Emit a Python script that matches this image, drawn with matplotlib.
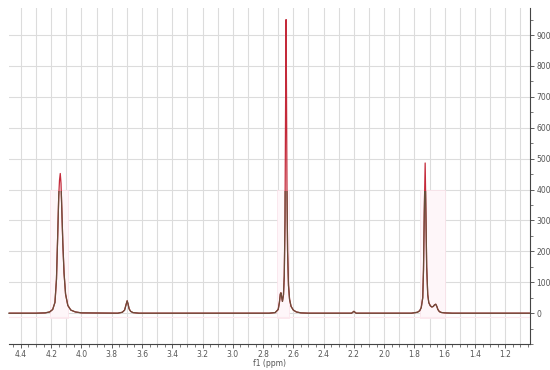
import numpy as np
import matplotlib
matplotlib.use("Agg")
from matplotlib import pyplot as plt
from matplotlib.patches import Rectangle
from matplotlib.ticker import MultipleLocator

# spectrum trace (ppm, intensity)
ppm = [4.48, 4.30, 4.24, 4.21, 4.19, 4.175, 4.165, 4.157, 4.150, 4.145, 4.140,
       4.135, 4.130, 4.123, 4.115, 4.105, 4.09, 4.07, 4.04, 4.00,
       3.76, 3.73, 3.715, 3.705, 3.698, 3.692, 3.685, 3.675, 3.66, 3.62,
       2.76, 2.72, 2.70, 2.692, 2.686, 2.682, 2.678, 2.672, 2.665, 2.660,
       2.655, 2.651, 2.648, 2.645, 2.642, 2.638, 2.632, 2.625, 2.615, 2.60,
       2.58, 2.55, 2.50,
       2.215, 2.20, 2.185,
       1.82, 1.78, 1.765, 1.755, 1.745, 1.740, 1.735, 1.729, 1.724, 1.719,
       1.712, 1.705, 1.695, 1.685, 1.675, 1.667, 1.659, 1.652, 1.645, 1.635,
       1.62, 1.60, 1.55, 1.04]
intensity = [0, 0, 1, 4, 12, 35, 110, 250, 380, 430, 452,
             420, 340, 226, 130, 62, 25, 10, 4, 1,
             0, 3, 10, 28, 40, 30, 14, 6, 2, 0,
             0, 2, 12, 35, 62, 66, 55, 38, 60, 120,
             300, 700, 950, 700, 400, 200, 90, 45, 22, 10,
             4, 1, 0,
             0, 6, 0,
             0, 3, 8, 18, 50, 140, 320, 486, 320, 150,
             60, 34, 24, 20, 22, 27, 29, 22, 12, 5,
             2, 1, 0, 0]

# integration regions (ppm from, ppm to)
region_from = [4.205, 2.705, 1.760]
region_to = [4.090, 2.630, 1.600]

x_ticks = [4.4, 4.2, 4.0, 3.8, 3.6, 3.4, 3.2, 3.0, 2.8, 2.6, 2.4, 2.2, 2.0, 1.8, 1.6, 1.4, 1.2]
y_ticks = [0, 100, 200, 300, 400, 500, 600, 700, 800, 900]

fig = plt.figure(figsize=(5.5, 3.7), dpi=100)
ax = fig.add_axes([0.016, 0.070, 0.948, 0.908])

for a, b in zip(region_from, region_to):
    ax.add_patch(Rectangle((b, -15), a - b, 415, facecolor="#fef6f9",
                           edgecolor="#fae1e9", linewidth=0.5, zorder=1))
ax.axhline(-12, color="#fce8ee", lw=0.8, zorder=1)

# red trace on top of peaks, brown trace below ~395
ax.plot(ppm, intensity, color="#c42a3a", lw=0.9, zorder=3)
brown, = ax.plot(ppm, intensity, color="#6b4d3a", lw=0.9, zorder=4)
brown.set_clip_path(Rectangle((1.0, -200), 3.6, 595, transform=ax.transData))

ax.set_xlim(4.48, 1.035)
ax.set_ylim(-100, 987)

ax.set_xticks(x_ticks)
ax.xaxis.set_minor_locator(MultipleLocator(0.05))
ax.set_yticks(y_ticks)
ax.yaxis.set_minor_locator(MultipleLocator(50))
ax.yaxis.tick_right()

# grid every 0.1 ppm and every 100
for g in np.arange(1.1, 4.5, 0.1):
    ax.axvline(g, color="#dcdcdc", lw=0.8, zorder=0)
for g in y_ticks:
    ax.axhline(g, color="#dcdcdc", lw=0.8, zorder=0)

for s in ["top", "left"]:
    ax.spines[s].set_visible(False)
for s in ["bottom", "right"]:
    ax.spines[s].set_color("#444444")
    ax.spines[s].set_linewidth(0.8)

ax.tick_params(axis="both", which="major", labelsize=5.5, labelcolor="#555555",
               length=3, width=0.6, color="#444444", pad=1.5)
ax.tick_params(axis="both", which="minor", length=2, width=0.5, color="#444444")
ax.set_xticklabels([f"{t:.1f}" for t in x_ticks])
ax.set_yticklabels([str(t) for t in y_ticks])
ax.set_xlabel("f1 (ppm)", fontsize=5.5, color="#555555", labelpad=0)

fig.savefig("out.png", dpi=100)
